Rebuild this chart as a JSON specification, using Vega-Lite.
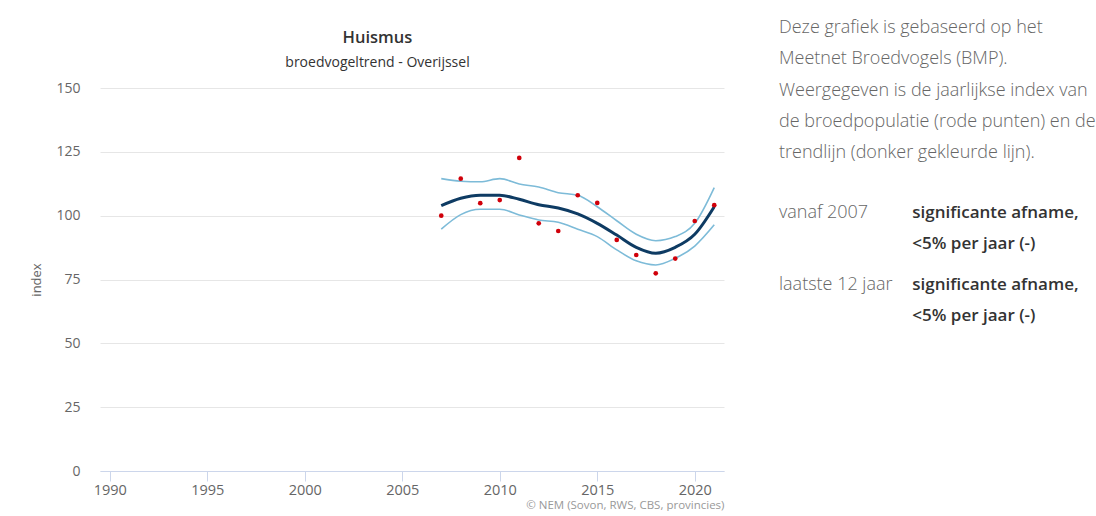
{
  "$schema": "https://vega.github.io/schema/vega-lite/v6.json",
  "padding": {"left": 30, "top": 18, "right": 0, "bottom": 0},
  "background": "white",
  "spacing": 55,
  "datasets": {
    "huismus": [
      {"jaar": 2007, "index": 100.0, "trend": 103.9, "boven": 114.5, "onder": 94.7},
      {"jaar": 2008, "index": 114.5, "trend": 106.8, "boven": 113.5, "onder": 100.4},
      {"jaar": 2009, "index": 104.9, "trend": 108.0, "boven": 113.3, "onder": 102.5},
      {"jaar": 2010, "index": 106.1, "trend": 108.0, "boven": 114.5, "onder": 102.5},
      {"jaar": 2011, "index": 122.6, "trend": 106.4, "boven": 112.4, "onder": 100.3},
      {"jaar": 2012, "index": 97.0, "trend": 104.3, "boven": 111.2, "onder": 98.3},
      {"jaar": 2013, "index": 94.0, "trend": 103.0, "boven": 109.0, "onder": 97.4},
      {"jaar": 2014, "index": 108.0, "trend": 100.7, "boven": 108.0, "onder": 94.7},
      {"jaar": 2015, "index": 105.0, "trend": 97.0, "boven": 103.5, "onder": 91.8},
      {"jaar": 2016, "index": 90.5, "trend": 92.4, "boven": 98.0, "onder": 86.6},
      {"jaar": 2017, "index": 84.6, "trend": 87.6, "boven": 92.7, "onder": 82.3},
      {"jaar": 2018, "index": 77.4, "trend": 85.3, "boven": 90.2, "onder": 80.7},
      {"jaar": 2019, "index": 83.2, "trend": 87.6, "boven": 91.8, "onder": 83.3},
      {"jaar": 2020, "index": 97.9, "trend": 92.7, "boven": 97.0, "onder": 88.1},
      {"jaar": 2021, "index": 104.1, "trend": 103.5, "boven": 111.0, "onder": 96.4}
    ],
    "uitleg": [
      {"regel": 0, "kol": 0, "soort": "tekst", "tekst": "Deze grafiek is gebaseerd op het"},
      {"regel": 1, "kol": 0, "soort": "tekst", "tekst": "Meetnet Broedvogels (BMP)."},
      {"regel": 2, "kol": 0, "soort": "tekst", "tekst": "Weergegeven is de jaarlijkse index van"},
      {"regel": 3, "kol": 0, "soort": "tekst", "tekst": "de broedpopulatie (rode punten) en de"},
      {"regel": 4, "kol": 0, "soort": "tekst", "tekst": "trendlijn (donker gekleurde lijn)."},
      {"regel": 5.9, "kol": 0, "soort": "tekst", "tekst": "vanaf 2007"},
      {"regel": 5.9, "kol": 1, "soort": "nadruk", "tekst": "significante afname,"},
      {"regel": 6.9, "kol": 1, "soort": "nadruk", "tekst": "<5% per jaar (-)"},
      {"regel": 8.2, "kol": 0, "soort": "tekst", "tekst": "laatste 12 jaar"},
      {"regel": 8.2, "kol": 1, "soort": "nadruk", "tekst": "significante afname,"},
      {"regel": 9.2, "kol": 1, "soort": "nadruk", "tekst": "<5% per jaar (-)"}
    ]
  },
  "hconcat": [
    {
      "width": 624,
      "height": 383,
      "title": {
        "text": "Huismus",
        "subtitle": "broedvogeltrend - Overijssel",
        "anchor": "middle",
        "frame": "bounds",
        "font": "Open Sans",
        "fontSize": 16.5,
        "fontWeight": 600,
        "color": "#333333",
        "subtitleFont": "Open Sans",
        "subtitleFontSize": 14,
        "subtitleColor": "#333333",
        "subtitlePadding": 10,
        "offset": 11
      },
      "data": {"name": "huismus"},
      "layer": [
        {
          "mark": {"type": "line", "color": "#7dbbd8", "strokeWidth": 1.6, "interpolate": "monotone"},
          "encoding": {
            "x": {"field": "jaar", "type": "quantitative", "title": "© NEM (Sovon, RWS, CBS, provincies)", "scale": {"domain": [1989.5, 2021.5], "nice": false, "zero": false}, "axis": {"values": [1990, 1995, 2000, 2005, 2010, 2015, 2020], "format": "d"}},
            "y": {"field": "boven", "type": "quantitative", "title": "index", "scale": {"domain": [0, 150], "nice": false}, "axis": {"values": [0, 25, 50, 75, 100, 125, 150]}}
          }
        },
        {
          "mark": {"type": "line", "color": "#7dbbd8", "strokeWidth": 1.6, "interpolate": "monotone"},
          "encoding": {
            "x": {"field": "jaar", "type": "quantitative", "title": "© NEM (Sovon, RWS, CBS, provincies)"},
            "y": {"field": "onder", "type": "quantitative", "title": "index"}
          }
        },
        {
          "mark": {"type": "line", "color": "#0e3b63", "strokeWidth": 3, "interpolate": "monotone"},
          "encoding": {
            "x": {"field": "jaar", "type": "quantitative", "title": "© NEM (Sovon, RWS, CBS, provincies)"},
            "y": {"field": "trend", "type": "quantitative", "title": "index"}
          }
        },
        {
          "mark": {"type": "point", "filled": true, "color": "#d0000a", "size": 22, "opacity": 1},
          "encoding": {
            "x": {"field": "jaar", "type": "quantitative", "title": "© NEM (Sovon, RWS, CBS, provincies)"},
            "y": {"field": "index", "type": "quantitative", "title": "index"}
          }
        }
      ]
    },
    {
      "width": 300,
      "height": 313,
      "data": {"name": "uitleg"},
      "encoding": {
        "x": {"field": "kol", "type": "quantitative", "scale": {"domain": [0, 2.25], "nice": false, "zero": false}, "axis": null},
        "y": {"field": "regel", "type": "quantitative", "scale": {"domain": [1.92, 11.92], "reverse": true, "nice": false, "zero": false}, "axis": null},
        "text": {"field": "tekst"}
      },
      "layer": [
        {
          "transform": [{"filter": "datum.soort === 'tekst'"}],
          "mark": {"type": "text", "align": "left", "baseline": "middle", "font": "Open Sans", "fontSize": 18, "fontWeight": 300, "color": "#666666"}
        },
        {
          "transform": [{"filter": "datum.soort === 'nadruk'"}],
          "mark": {"type": "text", "align": "left", "baseline": "middle", "font": "Open Sans", "fontSize": 17, "fontWeight": 600, "color": "#333333"}
        }
      ]
    }
  ],
  "config": {
    "view": {"stroke": null},
    "font": "Open Sans",
    "axisX": {
      "grid": false,
      "domainColor": "#ccd6eb",
      "tickColor": "#ccd6eb",
      "tickSize": 10,
      "labelFont": "Open Sans",
      "labelFontSize": 14.5,
      "labelColor": "#666666",
      "labelPadding": 2,
      "titleAnchor": "end",
      "titleAlign": "right",
      "titleFont": "Open Sans",
      "titleFontSize": 11.5,
      "titleFontWeight": "normal",
      "titleColor": "#999999",
      "titlePadding": 3
    },
    "axisY": {
      "grid": true,
      "gridColor": "#e6e6e6",
      "domain": false,
      "ticks": false,
      "labelFont": "Open Sans",
      "labelFontSize": 14,
      "labelColor": "#666666",
      "labelPadding": 20,
      "titleFont": "Open Sans",
      "titleFontSize": 13,
      "titleFontWeight": "normal",
      "titleColor": "#666666",
      "titlePadding": 12
    }
  }
}
